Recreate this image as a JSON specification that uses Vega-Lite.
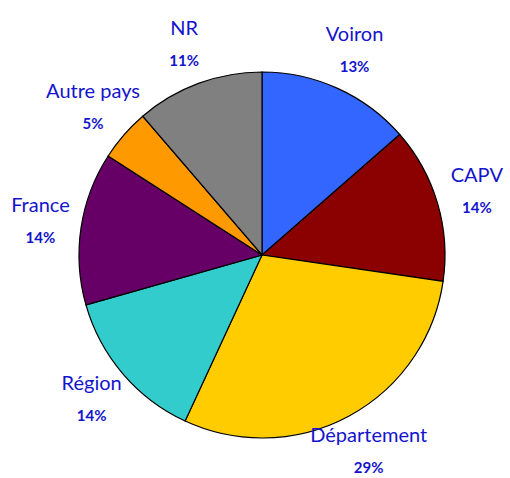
{
  "$schema": "https://vega.github.io/schema/vega-lite/v6.json",
  "autosize": {"type": "fit", "contains": "padding"},
  "width": 510,
  "height": 478,
  "padding": {"left": 14, "right": 0, "top": 32, "bottom": 0},
  "background": "white",
  "config": {"view": {"stroke": null}},
  "data": {
    "values": [
      {"cat": "Voiron", "pct": 13.56, "label": "13%", "ord": 1},
      {"cat": "CAPV", "pct": 13.74, "label": "14%", "ord": 2},
      {"cat": "Département", "pct": 29.6, "label": "29%", "ord": 3},
      {"cat": "Région", "pct": 13.7, "label": "14%", "ord": 4},
      {"cat": "France", "pct": 13.5, "label": "14%", "ord": 5},
      {"cat": "Autre pays", "pct": 4.6, "label": "5%", "ord": 6},
      {"cat": "NR", "pct": 11.3, "label": "11%", "ord": 7}
    ]
  },
  "encoding": {
    "theta": {"field": "pct", "type": "quantitative", "stack": true},
    "order": {"field": "ord", "type": "quantitative"}
  },
  "layer": [
    {
      "mark": {"type": "arc", "outerRadius": 183, "stroke": "black", "strokeWidth": 1.2},
      "encoding": {
        "color": {
          "field": "cat",
          "type": "nominal",
          "legend": null,
          "scale": {
            "domain": ["Voiron", "CAPV", "Département", "Région", "France", "Autre pays", "NR"],
            "range": ["#3366FF", "#8B0000", "#FFCC00", "#33CCCC", "#660066", "#FF9900", "#808080"]
          }
        }
      }
    },
    {
      "mark": {"type": "text", "radius": 224, "dy": -16, "fontSize": 20, "font": "Lato", "color": "#1414CC"},
      "encoding": {"text": {"field": "cat"}}
    },
    {
      "mark": {"type": "text", "radius": 224, "dy": 16, "fontSize": 15, "fontWeight": "bold", "font": "Lato", "color": "#1414CC"},
      "encoding": {"text": {"field": "label"}}
    }
  ]
}
